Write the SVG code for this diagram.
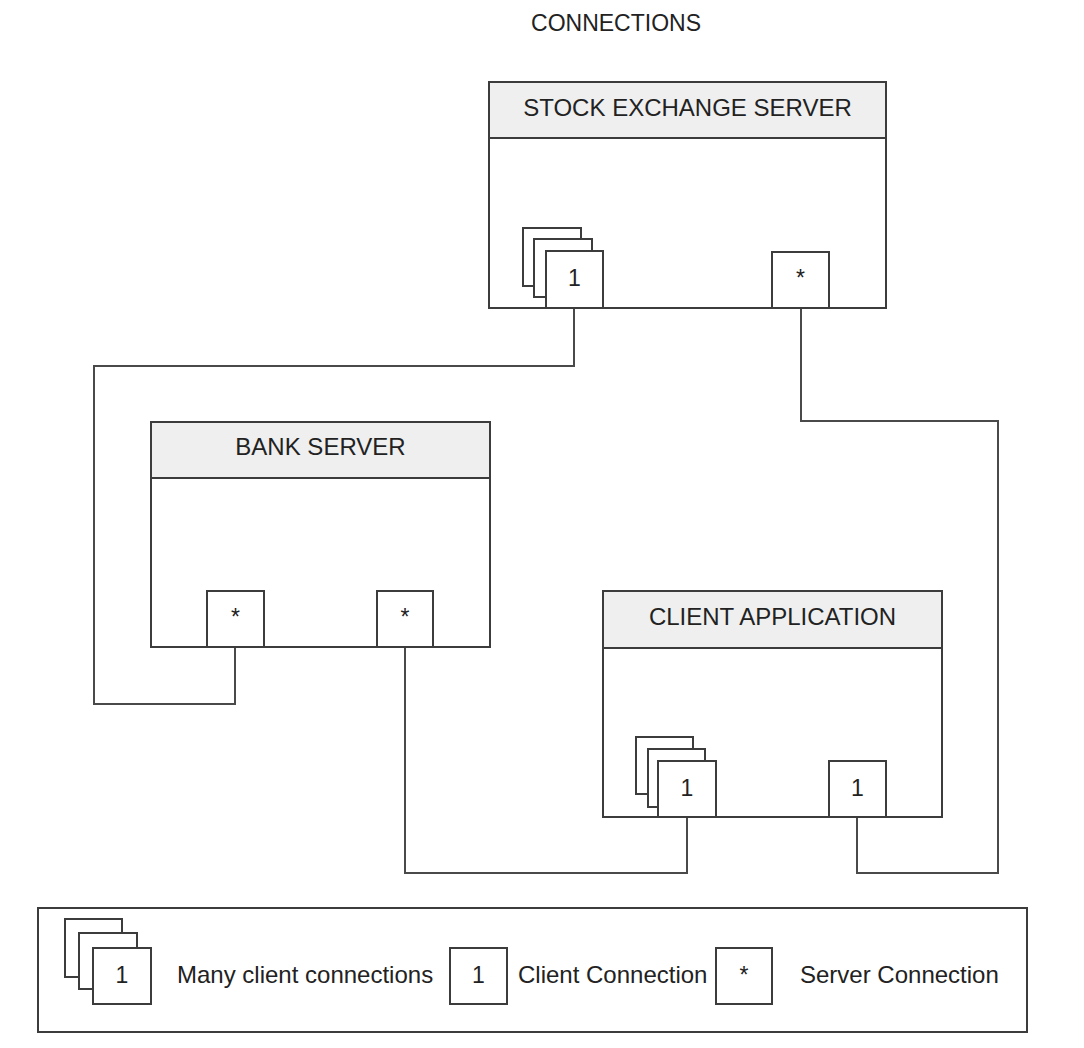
<svg xmlns="http://www.w3.org/2000/svg" width="1084" height="1048" viewBox="0 0 1084 1048">
<style>
.box{fill:#ffffff;stroke:#3c3c3c;stroke-width:2}
.hdr{fill:#efefef;stroke:#3c3c3c;stroke-width:2}
.port{fill:#ffffff;stroke:#3c3c3c;stroke-width:2}
.wire{fill:none;stroke:#4a4a4a;stroke-width:2}
.t{font-family:"Liberation Sans",Arial,sans-serif;fill:#222222}
.h{font-size:24px;text-anchor:middle}
.p{font-size:23px;text-anchor:middle}
.l{font-size:24px}
</style>
<rect width="1084" height="1048" fill="#ffffff"/>
<text class="t" x="616" y="31" font-size="23" text-anchor="middle">CONNECTIONS</text>

<g id="connectors">
<polyline class="wire" points="574,308 574,366 94,366 94,704 235,704 235,647"/>
<polyline class="wire" points="801,308 801,421 998,421 998,873 857,873 857,817"/>
<polyline class="wire" points="405,647 405,873 687,873 687,817"/>
</g>

<g id="stock-exchange-server">
<rect class="box" x="489" y="82" width="397" height="226"/>
<rect class="hdr" x="489" y="82" width="397" height="56"/>
<text class="t h" x="687.5" y="116">STOCK EXCHANGE SERVER</text>
<rect class="port" x="523" y="228" width="58" height="58"/>
<rect class="port" x="534" y="239" width="58" height="58"/>
<rect class="port" x="546" y="251" width="57" height="57"/>
<text class="t p" x="574.5" y="286">1</text>
<rect class="port" x="772" y="252" width="57" height="56"/>
<text class="t p" x="800.5" y="286">*</text>
</g>

<g id="bank-server">
<rect class="box" x="151" y="422" width="339" height="225"/>
<rect class="hdr" x="151" y="422" width="339" height="56"/>
<text class="t h" x="320.5" y="455">BANK SERVER</text>
<rect class="port" x="207" y="591" width="57" height="56"/>
<text class="t p" x="235.5" y="625">*</text>
<rect class="port" x="377" y="591" width="56" height="56"/>
<text class="t p" x="405" y="625">*</text>
</g>

<g id="client-application">
<rect class="box" x="603" y="591" width="339" height="226"/>
<rect class="hdr" x="603" y="591" width="339" height="57"/>
<text class="t h" x="772.5" y="625">CLIENT APPLICATION</text>
<rect class="port" x="636" y="737" width="57" height="57"/>
<rect class="port" x="648" y="749" width="57" height="58"/>
<rect class="port" x="658" y="761" width="58" height="56"/>
<text class="t p" x="687" y="796">1</text>
<rect class="port" x="829" y="761" width="57" height="56"/>
<text class="t p" x="857.5" y="796">1</text>
</g>

<g id="legend">
<rect class="box" x="38" y="908" width="989" height="124"/>
<rect class="port" x="65" y="919" width="57" height="58"/>
<rect class="port" x="79" y="933" width="58" height="56"/>
<rect class="port" x="93" y="948" width="58" height="56"/>
<text class="t p" x="122" y="983">1</text>
<text class="t l" x="177" y="983">Many client connections</text>
<rect class="port" x="450" y="948" width="57" height="56"/>
<text class="t p" x="478.5" y="983">1</text>
<text class="t l" x="518" y="983">Client Connection</text>
<rect class="port" x="716" y="948" width="56" height="56"/>
<text class="t p" x="744" y="983">*</text>
<text class="t l" x="800" y="983">Server Connection</text>
</g>
</svg>
